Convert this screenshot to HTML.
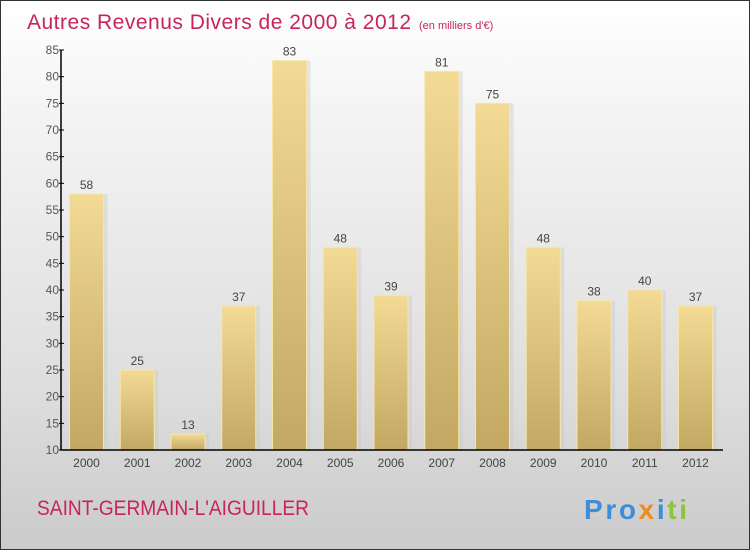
<!DOCTYPE html>
<html><head><meta charset="utf-8"><style>
body{margin:0}
#c{position:relative;width:748px;height:548px;border:1px solid #333;background:linear-gradient(#fff,#f4f4f4 20%,#dedede 70%,#cbcbcb);overflow:hidden;font-family:"Liberation Sans",sans-serif}
</style></head><body>
<div id="c">
<svg id="s" width="748" height="548" style="position:absolute;left:0;top:0">
<defs><linearGradient id="g" x1="0" y1="0" x2="0" y2="1"><stop offset="0" stop-color="#f3da95"/><stop offset="1" stop-color="#c2a862"/></linearGradient></defs>
<text x="26" y="28" font-size="21" fill="#c8245a" textLength="384">Autres Revenus Divers de 2000 à 2012</text>
<text x="418" y="28" font-size="11" fill="#c8245a">(en milliers d'€)</text>
<text x="36" y="514" font-size="21" fill="#c8245a" textLength="272" lengthAdjust="spacingAndGlyphs">SAINT-GERMAIN-L'AIGUILLER</text>
<text x="583" y="518" font-size="28" font-weight="bold" textLength="103"><tspan fill="#3a8fd8">Pro</tspan><tspan fill="#f08a1c">x</tspan><tspan fill="#3a8fd8">i</tspan><tspan fill="#8cc43c">ti</tspan></text>
<g id="plot"></g>
</svg>
</div>
<script>
const years=["2000","2001","2002","2003","2004","2005","2006","2007","2008","2009","2010","2011","2012"];
const values=[58,25,13,37,83,48,39,81,75,48,38,40,37];
const yTicks=[10,15,20,25,30,35,40,45,50,55,60,65,70,75,80,85];
const x0=60,x1=722,yB=449,yT=49,vMin=10,vMax=85;
const ns="http://www.w3.org/2000/svg";
const g=document.getElementById('plot');
function y(v){return yB-(v-vMin)/(vMax-vMin)*(yB-yT);}
function xc(i){return 85.5+i*50.75;}
function mk(t,a){const e=document.createElementNS(ns,t);for(const k in a)e.setAttribute(k,a[k]);g.appendChild(e);return e;}
values.forEach((v,i)=>{
 const sh=mk('rect',{x:xc(i)-17+2,y:y(v),width:36,height:yB-y(v),fill:'#c8c8c8',opacity:0.4});
 
 
 const r=mk('rect',{x:xc(i)-17,y:y(v),width:34,height:yB-y(v),fill:'url(#g)',stroke:'#f6e7a8','stroke-width':1});
 
 
 const t=mk('text',{x:xc(i),y:y(v)-5,'text-anchor':'middle','font-size':12,fill:'#444'});
 t.textContent=v;
 
 
 const xl=mk('text',{x:xc(i),y:466,'text-anchor':'middle','font-size':12,fill:'#444'});
 xl.textContent=years[i];
 
 
});
yTicks.forEach(v=>{
 const l=mk('line',{x1:x0-2,x2:x0+3,y1:y(v),y2:y(v),stroke:'#000'});
 
 
 const t=mk('text',{x:x0-2,y:y(v)+4,'text-anchor':'end','font-size':12,fill:'#555'});
 t.textContent=v;
 
 
});
const ya=mk('line',{x1:x0,x2:x0,y1:yT,y2:yB,stroke:'#000','stroke-width':1.5});


const xa=mk('line',{x1:x0,x2:x1,y1:yB,y2:yB,stroke:'#000','stroke-width':1.5});


</script>
</body></html>
